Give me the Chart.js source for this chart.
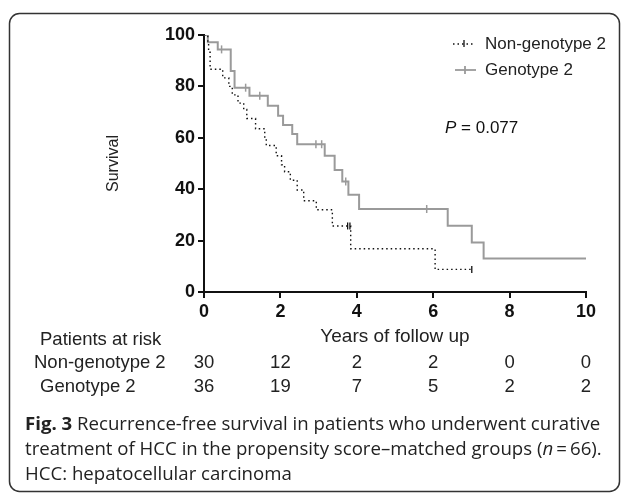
<!DOCTYPE html>
<html>
<head>
<meta charset="utf-8">
<script src="https://cdn.jsdelivr.net/npm/chart.js@4/dist/chart.umd.min.js"></script>
<style>
html,body{margin:0;padding:0;background:#fff;}
#wrap{position:relative;width:627px;height:493px;}
</style>
</head>
<body>
<div id="wrap"><canvas id="c" width="627" height="493"></canvas></div>
<script>
// ---- data ----
const xTicks = [0, 2, 4, 6, 8, 10];
const yTicks = [0, 20, 40, 60, 80, 100];
const groupNames = ['Non-genotype 2', 'Genotype 2'];

const ng2Times = [0, 0.10, 0.12, 0.16, 0.49, 0.65, 0.74, 0.89, 1.04, 1.12, 1.35, 1.59, 1.63, 1.89, 2.03, 2.11, 2.26, 2.44, 2.61, 2.94, 3.36, 3.84, 6.05, 7.01];
const ng2Surv  = [100, 96.7, 93.3, 86.7, 83.3, 80.0, 76.7, 73.5, 71.0, 67.5, 63.5, 60.3, 57.0, 53.0, 49.5, 46.8, 43.5, 39.7, 35.5, 32.0, 25.7, 16.8, 8.8, 8.8];
const ng2CensorTimes = [3.76, 3.82, 7.01];
const ng2CensorSurv  = [25.7, 25.7, 8.8];

const g2Times = [0, 0.10, 0.36, 0.70, 0.80, 1.19, 1.67, 1.94, 2.07, 2.31, 2.44, 3.16, 3.42, 3.62, 3.78, 4.06, 6.38, 7.01, 7.32, 10];
const g2Surv  = [100, 97.2, 94.4, 86.0, 79.5, 76.4, 72.5, 68.6, 65.0, 61.5, 57.5, 53.0, 47.5, 43.0, 37.8, 32.3, 25.8, 19.3, 13.0, 13.0];
const g2CensorTimes = [0.46, 1.09, 1.46, 2.93, 3.08, 3.71, 5.83];
const g2CensorSurv  = [94.4, 79.5, 76.4, 57.5, 57.5, 43.0, 32.3];

const atRiskNG2 = [30, 12, 2, 2, 0, 0];
const atRiskG2  = [36, 19, 7, 5, 2, 2];

const pText = '0.077';
const xTitle = 'Years of follow up';
const yTitle = 'Survival';
const riskTitle = 'Patients at risk';
const captionBold = 'Fig. 3';
const captionL1 = ' Recurrence-free survival in patients who underwent curative';
const captionL2a = 'treatment of HCC in the propensity score\u2013matched groups (';
const captionL2n = 'n';
const captionL2b = '\u2009=\u200966).';
const captionL3 = 'HCC: hepatocellular carcinoma';

// ---- build ----
const pts = (xs, ys) => xs.map((x, i) => ({x: x, y: ys[i]}));
const BLACK = '#111';
const GRAY = '#9a9a9a';
const SANS = '"Liberation Sans", Arial, sans-serif';

const overlay = {
  id: 'overlay',
  beforeDraw(chart) {
    const ctx = chart.ctx;
    ctx.save();
    ctx.fillStyle = '#fff';
    ctx.fillRect(0, 0, chart.width, chart.height);
    ctx.restore();
  },
  afterDraw(chart) {
    const ctx = chart.ctx;
    const xs = chart.scales.x, ys = chart.scales.y;
    ctx.save();
    // frame
    ctx.strokeStyle = '#333';
    ctx.lineWidth = 1.5;
    ctx.beginPath();
    ctx.roundRect(9.5, 13.5, 610, 478, 10);
    ctx.stroke();

    ctx.fillStyle = '#222';
    ctx.textBaseline = 'middle';
    // y title
    ctx.save();
    ctx.translate(114, (ys.top + ys.bottom) / 2);
    ctx.rotate(-Math.PI / 2);
    ctx.textAlign = 'center';
    ctx.font = '16px ' + SANS;
    ctx.fillText(yTitle, 0, 0);
    ctx.restore();
    // x title
    ctx.textAlign = 'center';
    ctx.font = '19px ' + SANS;
    ctx.fillText(xTitle, (xs.left + xs.right) / 2, 337);

    // risk table
    ctx.font = '18.5px ' + SANS;
    ctx.textAlign = 'left';
    ctx.fillText(riskTitle, 40, 340);
    ctx.fillText(groupNames[0], 34, 363);
    ctx.fillText(groupNames[1], 40, 387);
    ctx.textAlign = 'center';
    xTicks.forEach((t, i) => {
      const px = xs.getPixelForValue(t);
      ctx.fillText(String(atRiskNG2[i]), px, 363);
      ctx.fillText(String(atRiskG2[i]), px, 387);
    });

    // legend
    ctx.textAlign = 'left';
    ctx.font = '17px ' + SANS;
    ctx.fillText(groupNames[0], 485, 44);
    ctx.fillText(groupNames[1], 485, 70);
    ctx.strokeStyle = BLACK; ctx.lineWidth = 1.3;
    ctx.setLineDash([1.5, 3]);
    ctx.beginPath(); ctx.moveTo(453, 44); ctx.lineTo(474, 44); ctx.stroke();
    ctx.setLineDash([]);
    ctx.beginPath(); ctx.moveTo(464, 40); ctx.lineTo(464, 47); ctx.stroke();
    ctx.strokeStyle = GRAY; ctx.lineWidth = 1.8;
    ctx.beginPath(); ctx.moveTo(455, 70); ctx.lineTo(476, 70); ctx.stroke();
    ctx.beginPath(); ctx.moveTo(465, 66); ctx.lineTo(465, 74); ctx.stroke();

    // P value
    ctx.fillStyle = '#111';
    ctx.font = 'italic 17px ' + SANS;
    ctx.fillText('P', 445, 128);
    let w = ctx.measureText('P').width;
    ctx.font = '17px ' + SANS;
    ctx.fillText(' = ' + pText, 445 + w, 128);

    // caption
    const CAP = '"Open Sans", "Noto Sans", sans-serif';
    let fs = 17;
    ctx.font = fs + 'px ' + CAP;
    const l2w = ctx.measureText(captionL2a + captionL2n + captionL2b).width;
    fs = fs * 578 / l2w;
    const cx = 25;
    ctx.fillStyle = '#222';
    ctx.font = 'bold ' + fs + 'px ' + CAP;
    ctx.fillText(captionBold, cx, 425);
    w = ctx.measureText(captionBold).width;
    ctx.font = fs + 'px ' + CAP;
    ctx.fillText(captionL1, cx + w, 425);
    ctx.fillText(captionL2a, cx, 450);
    w = ctx.measureText(captionL2a).width;
    ctx.font = 'italic ' + fs + 'px ' + CAP;
    ctx.fillText(captionL2n, cx + w, 450);
    w += ctx.measureText(captionL2n).width;
    ctx.font = fs + 'px ' + CAP;
    ctx.fillText(captionL2b, cx + w, 450);
    ctx.fillText(captionL3, cx, 475);
    ctx.restore();
  }
};

new Chart(document.getElementById('c'), {
  type: 'line',
  data: {
    datasets: [
      {
        label: groupNames[0],
        data: pts(ng2Times, ng2Surv),
        stepped: 'before',
        borderColor: BLACK,
        borderWidth: 1.4,
        borderDash: [1.5, 3],
        pointRadius: 0,
        fill: false
      },
      {
        label: groupNames[1],
        data: pts(g2Times, g2Surv),
        stepped: 'before',
        borderColor: GRAY,
        borderWidth: 2,
        pointRadius: 0,
        fill: false
      },
      {
        label: groupNames[0] + ' censored',
        data: pts(ng2CensorTimes, ng2CensorSurv),
        showLine: false,
        pointStyle: 'line',
        rotation: 90,
        pointRadius: 3.5,
        pointBorderWidth: 1.3,
        borderColor: BLACK,
        backgroundColor: BLACK
      },
      {
        label: groupNames[1] + ' censored',
        data: pts(g2CensorTimes, g2CensorSurv),
        showLine: false,
        pointStyle: 'line',
        rotation: 90,
        pointRadius: 4,
        pointBorderWidth: 1.5,
        borderColor: GRAY,
        backgroundColor: GRAY
      }
    ]
  },
  options: {
    responsive: false,
    devicePixelRatio: 1,
    animation: false,
    layout: { padding: { left: 144, right: 41, top: 35, bottom: 171 } },
    plugins: { legend: { display: false }, tooltip: { enabled: false } },
    scales: {
      x: {
        type: 'linear',
        min: 0, max: 10,
        afterFit: s => { s.height = 30; },
        afterBuildTicks: s => { s.ticks = xTicks.map(v => ({value: v})); },
        ticks: { color: '#111', font: { family: SANS, size: 18, weight: 'bold' }, padding: 3, maxRotation: 0 },
        grid: { drawOnChartArea: false, drawTicks: true, tickLength: 6, color: '#111', lineWidth: 2 },
        border: { display: true, color: '#111', width: 2 }
      },
      y: {
        min: 0, max: 100,
        afterFit: s => { s.width = 60; },
        afterBuildTicks: s => { s.ticks = yTicks.map(v => ({value: v})); },
        ticks: { color: '#111', font: { family: SANS, size: 18, weight: 'bold' }, padding: 3 },
        grid: { drawOnChartArea: false, drawTicks: true, tickLength: 6, color: '#111', lineWidth: 2 },
        border: { display: true, color: '#111', width: 2 }
      }
    }
  },
  plugins: [overlay]
});
</script>
</body>
</html>
